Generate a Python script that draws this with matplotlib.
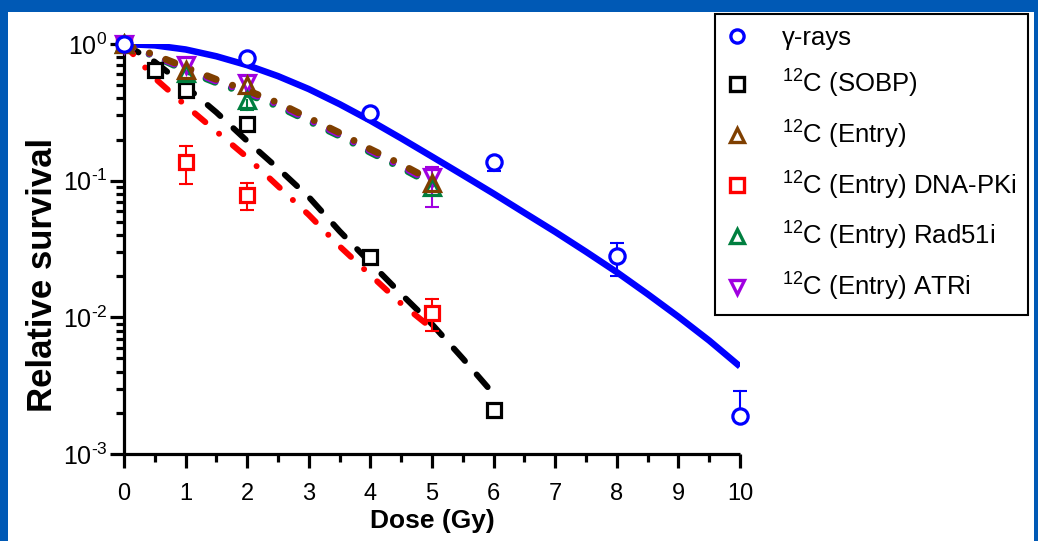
import matplotlib
matplotlib.use('Agg')
import matplotlib.pyplot as plt
from matplotlib.lines import Line2D
from matplotlib.patches import Rectangle
from matplotlib.ticker import LogLocator, MultipleLocator, NullFormatter, FixedLocator, FixedFormatter

plt.rcParams['font.family'] = ['Liberation Sans', 'DejaVu Sans']
plt.rcParams['mathtext.fontset'] = 'custom'
plt.rcParams['mathtext.rm'] = 'Liberation Sans'
plt.rcParams['mathtext.it'] = 'Liberation Sans:italic'
plt.rcParams['mathtext.bf'] = 'Liberation Sans:bold'
plt.rcParams['axes.unicode_minus'] = False

# measured survival points
dose_gamma = [0, 2, 4, 6, 8, 10]
surv_gamma = [1.0, 0.79, 0.315, 0.138, 0.028, 0.0019]
lo_gamma = [0, 0, 0, 0.02, 0.008, 0]
hi_gamma = [0, 0, 0, 0, 0.007, 0.001]

dose_sobp = [0, 0.5, 1, 2, 4, 6]
surv_sobp = [1.0, 0.645, 0.46, 0.26, 0.0276, 0.0021]

dose_entry = [0, 1, 2, 5]
surv_entry = [1.0, 0.645, 0.50, 0.096]

dose_dnapk = [0, 1, 2, 5]
surv_dnapk = [1.0, 0.136, 0.0785, 0.0108]
lo_dnapk = [0, 0.042, 0.017, 0.0028]
hi_dnapk = [0, 0.044, 0.018, 0.0028]

dose_rad51 = [0, 1, 2, 5]
surv_rad51 = [1.0, 0.61, 0.39, 0.09]
lo_rad51 = [0, 0, 0.06, 0]
hi_rad51 = [0, 0, 0, 0]

dose_atr = [0, 1, 2, 5]
surv_atr = [1.0, 0.70, 0.52, 0.107]
lo_atr = [0, 0, 0, 0.043]
hi_atr = [0, 0, 0, 0.019]

# fitted curves
fit_dose_gamma = [0, 0.5, 1, 1.5, 2, 2.5, 3, 3.5, 4, 4.5, 5,
                  5.5, 6, 6.5, 7, 7.5, 8, 8.5, 9, 9.5, 10]
fit_gamma = [1.0, 0.977, 0.912, 0.813, 0.700, 0.582, 0.468, 0.363, 0.275, 0.204, 0.150,
             0.110, 0.0804, 0.0582, 0.0422, 0.0302, 0.0214, 0.0148, 0.0101, 0.00676, 0.00437]

fit_dose_sobp = [0, 0.5, 1, 1.5, 2, 2.5, 3, 3.5, 4, 4.5, 5, 5.5, 6]
fit_sobp = [1.0, 0.74, 0.49, 0.316, 0.195, 0.123, 0.0759, 0.0427, 0.0251, 0.0148, 0.0089, 0.0050, 0.00275]

fit_dose_entry = [0, 0.5, 1, 1.5, 2, 2.5, 3, 3.5, 4, 4.5, 5]
fit_dnapk = [1.0, 0.562, 0.355, 0.229, 0.148, 0.0912, 0.0562, 0.0331, 0.0204, 0.0126, 0.0083]
fit_entry = [1.0, 0.832, 0.676, 0.550, 0.457, 0.372, 0.288, 0.224, 0.170, 0.132, 0.100]
fit_rad51 = [1.0, 0.81, 0.64, 0.52, 0.43, 0.35, 0.272, 0.212, 0.161, 0.124, 0.094]
fit_atr = [1.0, 0.82, 0.66, 0.535, 0.445, 0.362, 0.28, 0.218, 0.166, 0.128, 0.097]

ytick_values = [1e-3, 1e-2, 1e-1, 1]
ytick_labels = [r'$\mathdefault{10^{\text{-}3}}$', r'$\mathdefault{10^{\text{-}2}}$',
                r'$\mathdefault{10^{\text{-}1}}$', r'$\mathdefault{10^{0}}$']

BLUE = '#0000FF'
BLACK = '#000000'
BROWN = '#7F3F00'
RED = '#FF0000'
GREEN = '#007F3F'
PURPLE = '#A000E0'

W, H = 1038, 541
fig = plt.figure(figsize=(W / 100, H / 100), dpi=100)
fig.patch.set_facecolor('#0059B5')
fig.patches.append(Rectangle((8 / W, 0), (1034 - 8) / W, (H - 12) / H,
                             transform=fig.transFigure, facecolor='white',
                             edgecolor='none', zorder=-10))

ax = fig.add_axes([124 / W, (H - 454) / H, (740 - 124) / W, (454 - 44) / H])
ax.set_facecolor('none')
ax.set_yscale('log')
ax.set_xlim(0, 10)
ax.set_ylim(1e-3, 1)


def fit_line(x, y, color, dashes, lw, z=2):
    ln, = ax.plot(x, y, color=color, lw=lw, zorder=z, solid_capstyle='butt')
    if dashes is not None:
        ln.set_dashes(dashes)
        ln.set_dash_capstyle('round')
    return ln


fit_line(fit_dose_gamma, fit_gamma, BLUE, None, 4.7)
fit_line(fit_dose_sobp, fit_sobp, BLACK, (2.8, 3.0), 4.3)
fit_line(fit_dose_entry, fit_dnapk, RED, (2.3, 3.0, 0.01, 3.0), 4.3)
fit_line(fit_dose_entry, fit_rad51, GREEN, (1.4, 2.5, 0.01, 2.5), 5.0)
fit_line(fit_dose_entry, fit_atr, PURPLE, (1.4, 2.5, 0.01, 2.5), 5.0)
fit_line(fit_dose_entry, fit_entry, BROWN, (1.4, 2.5, 0.01, 2.5), 5.0)


def err_bars(x, y, lo, hi, color):
    for xi, yi, l, h in zip(x, y, lo, hi):
        for e in (-l, h):
            if e != 0:
                ax.plot([xi, xi], [yi, yi + e], color=color, lw=1.5,
                        zorder=3, clip_on=False)
                ax.plot(xi, yi + e, marker='_', ms=10, mew=1.5, color=color,
                        zorder=3, clip_on=False)


err_bars(dose_gamma, surv_gamma, lo_gamma, hi_gamma, BLUE)
err_bars(dose_dnapk, surv_dnapk, lo_dnapk, hi_dnapk, RED)
err_bars(dose_rad51, surv_rad51, lo_rad51, hi_rad51, GREEN)
err_bars(dose_atr, surv_atr, lo_atr, hi_atr, PURPLE)

series = [
    (dose_sobp, surv_sobp, 's', BLACK, 'white', 10.5, '$^{12}$C (SOBP)'),
    (dose_dnapk, surv_dnapk, 's', RED, 'white', 10.5, '$^{12}$C (Entry) DNA-PKi'),
    (dose_atr, surv_atr, 'v', PURPLE, 'none', 11.5, '$^{12}$C (Entry) ATRi'),
    (dose_rad51, surv_rad51, '^', GREEN, 'none', 11.5, '$^{12}$C (Entry) Rad51i'),
    (dose_entry, surv_entry, '^', BROWN, 'none', 11.5, '$^{12}$C (Entry)'),
    (dose_gamma, surv_gamma, 'o', BLUE, 'white', 11, 'γ-rays'),
]
for x, y, m, c, fc, ms, lab in series:
    ax.plot(x, y, ls='none', marker=m, ms=ms, mec=c, mfc=fc, mew=2.3,
            zorder=4, clip_on=False)

# axes styling
for side in ('top', 'right'):
    ax.spines[side].set_visible(False)
for side in ('left', 'bottom'):
    ax.spines[side].set_linewidth(2.3)
    ax.spines[side].set_capstyle('butt')

ax.xaxis.set_major_locator(MultipleLocator(1))
ax.xaxis.set_minor_locator(MultipleLocator(0.5))
ax.yaxis.set_major_locator(FixedLocator(ytick_values))
ax.yaxis.set_major_formatter(FixedFormatter(ytick_labels))
ax.yaxis.set_minor_locator(LogLocator(base=10, subs=range(2, 10), numticks=10))
ax.yaxis.set_minor_formatter(NullFormatter())
ax.tick_params(which='major', length=10, width=2.3, direction='out')
ax.tick_params(which='minor', length=6, width=2.3, direction='out')
ax.tick_params(axis='y', labelsize=18, pad=2)
ax.tick_params(axis='x', labelsize=17, pad=11)

ax.set_ylabel('Relative survival', fontsize=25, fontweight='bold')
ax.yaxis.set_label_coords(-0.106, 0.437)
ax.set_xlabel('Dose (Gy)', fontsize=19, fontweight='bold', labelpad=3)

# legend
order = [5, 0, 4, 1, 3, 2]
handles = []
labels = []
for i in order:
    x, y, m, c, fc, ms, lab = series[i]
    handles.append(Line2D([], [], ls='none', marker=m, ms=9.5, mec=c, mfc='none', mew=2.4))
    labels.append(lab)
leg = fig.legend(handles, labels, loc='upper left',
                 bbox_to_anchor=(715 / W, 1 - 14 / H), bbox_transform=fig.transFigure,
                 fontsize=18.5, frameon=True, fancybox=False, borderaxespad=0,
                 labelspacing=0.72, handlelength=0.8, handletextpad=1.35,
                 borderpad=0.45)
leg.get_frame().set_edgecolor('black')
leg.get_frame().set_linewidth(1.5)
leg.get_frame().set_alpha(1)

fig.savefig('out.png', dpi=100, facecolor=fig.get_facecolor())
